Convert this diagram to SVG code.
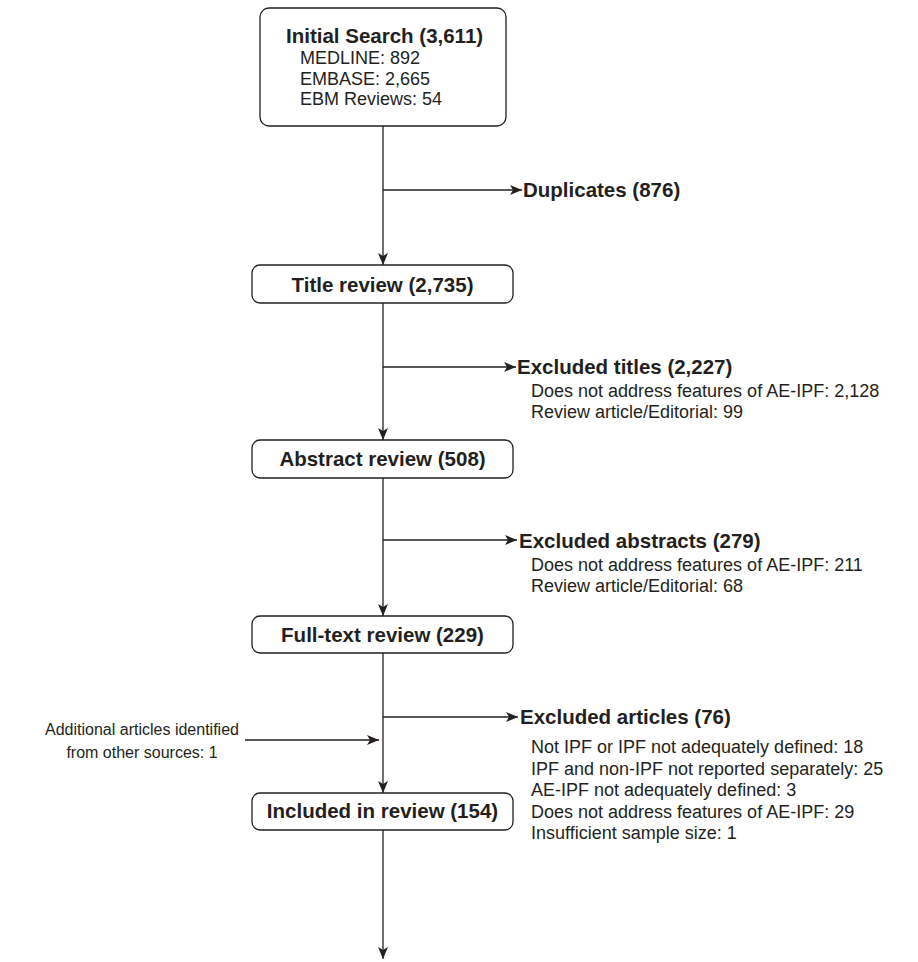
<svg xmlns="http://www.w3.org/2000/svg" width="918" height="962" viewBox="0 0 918 962">
<style>
.box{fill:#fff;stroke:#231f20;stroke-width:1.3}
.ln{stroke:#231f20;stroke-width:1.3;fill:none}
.t{font-family:"Liberation Sans",Arial,sans-serif;fill:#231f20}
.b{font-weight:bold;font-size:20.5px}
.r{font-size:18px}
.s{font-size:16px}
</style>
<defs>
<marker id="ah" viewBox="0 0 12 10" refX="12" refY="5" markerWidth="12" markerHeight="10" markerUnits="userSpaceOnUse" orient="auto">
<path d="M0,0 L12,5 L0,10 L3,5 Z" fill="#231f20"/>
</marker>
</defs>
<rect width="918" height="962" fill="#fff"/>
<g id="connectors">
<line class="ln" x1="383" y1="126" x2="383" y2="265" marker-end="url(#ah)"/>
<line class="ln" x1="383" y1="303" x2="383" y2="440" marker-end="url(#ah)"/>
<line class="ln" x1="383" y1="478" x2="383" y2="616" marker-end="url(#ah)"/>
<line class="ln" x1="383" y1="653" x2="383" y2="793" marker-end="url(#ah)"/>
<line class="ln" x1="383" y1="830" x2="383" y2="959" marker-end="url(#ah)"/>
<line class="ln" x1="383" y1="190" x2="522" y2="190" marker-end="url(#ah)"/>
<line class="ln" x1="383" y1="367" x2="516" y2="367" marker-end="url(#ah)"/>
<line class="ln" x1="383" y1="540" x2="517" y2="540" marker-end="url(#ah)"/>
<line class="ln" x1="383" y1="717" x2="518" y2="717" marker-end="url(#ah)"/>
<line class="ln" x1="245" y1="740" x2="379" y2="740" marker-end="url(#ah)"/>
</g>
<g id="initial-search">
<rect class="box" x="260" y="8" width="246" height="118" rx="9"/>
<text class="t b" x="286" y="43">Initial Search (3,611)</text>
<text class="t r" x="300" y="64">MEDLINE: 892</text>
<text class="t r" x="300" y="84.5">EMBASE: 2,665</text>
<text class="t r" x="300" y="105">EBM Reviews: 54</text>
</g>
<g id="duplicates">
<text class="t b" x="523" y="197">Duplicates (876)</text>
</g>
<g id="title-review">
<rect class="box" x="252" y="265" width="261" height="38" rx="8"/>
<text class="t b" x="382.5" y="292" text-anchor="middle">Title review (2,735)</text>
</g>
<g id="excluded-titles">
<text class="t b" x="517" y="374">Excluded titles (2,227)</text>
<text class="t r" x="531" y="397">Does not address features of AE-IPF: 2,128</text>
<text class="t r" x="531" y="418">Review article/Editorial: 99</text>
</g>
<g id="abstract-review">
<rect class="box" x="252" y="440" width="261" height="38" rx="8"/>
<text class="t b" x="382.5" y="466" text-anchor="middle">Abstract review (508)</text>
</g>
<g id="excluded-abstracts">
<text class="t b" x="519" y="548">Excluded abstracts (279)</text>
<text class="t r" x="531" y="571">Does not address features of AE-IPF: 211</text>
<text class="t r" x="531" y="592">Review article/Editorial: 68</text>
</g>
<g id="full-text-review">
<rect class="box" x="252" y="616" width="261" height="37" rx="8"/>
<text class="t b" x="382.5" y="642" text-anchor="middle">Full-text review (229)</text>
</g>
<g id="excluded-articles">
<text class="t b" x="520" y="724">Excluded articles (76)</text>
<text class="t r" x="531" y="753">Not IPF or IPF not adequately defined: 18</text>
<text class="t r" x="531" y="775">IPF and non-IPF not reported separately: 25</text>
<text class="t r" x="531" y="796">AE-IPF not adequately defined: 3</text>
<text class="t r" x="531" y="818">Does not address features of AE-IPF: 29</text>
<text class="t r" x="531" y="839">Insufficient sample size: 1</text>
</g>
<g id="additional-articles">
<text class="t s" x="142" y="735" text-anchor="middle">Additional articles identified</text>
<text class="t s" x="142" y="758" text-anchor="middle">from other sources: 1</text>
</g>
<g id="included-in-review">
<rect class="box" x="252" y="793" width="261" height="37" rx="8"/>
<text class="t b" x="382.5" y="818" text-anchor="middle">Included in review (154)</text>
</g>
</svg>
